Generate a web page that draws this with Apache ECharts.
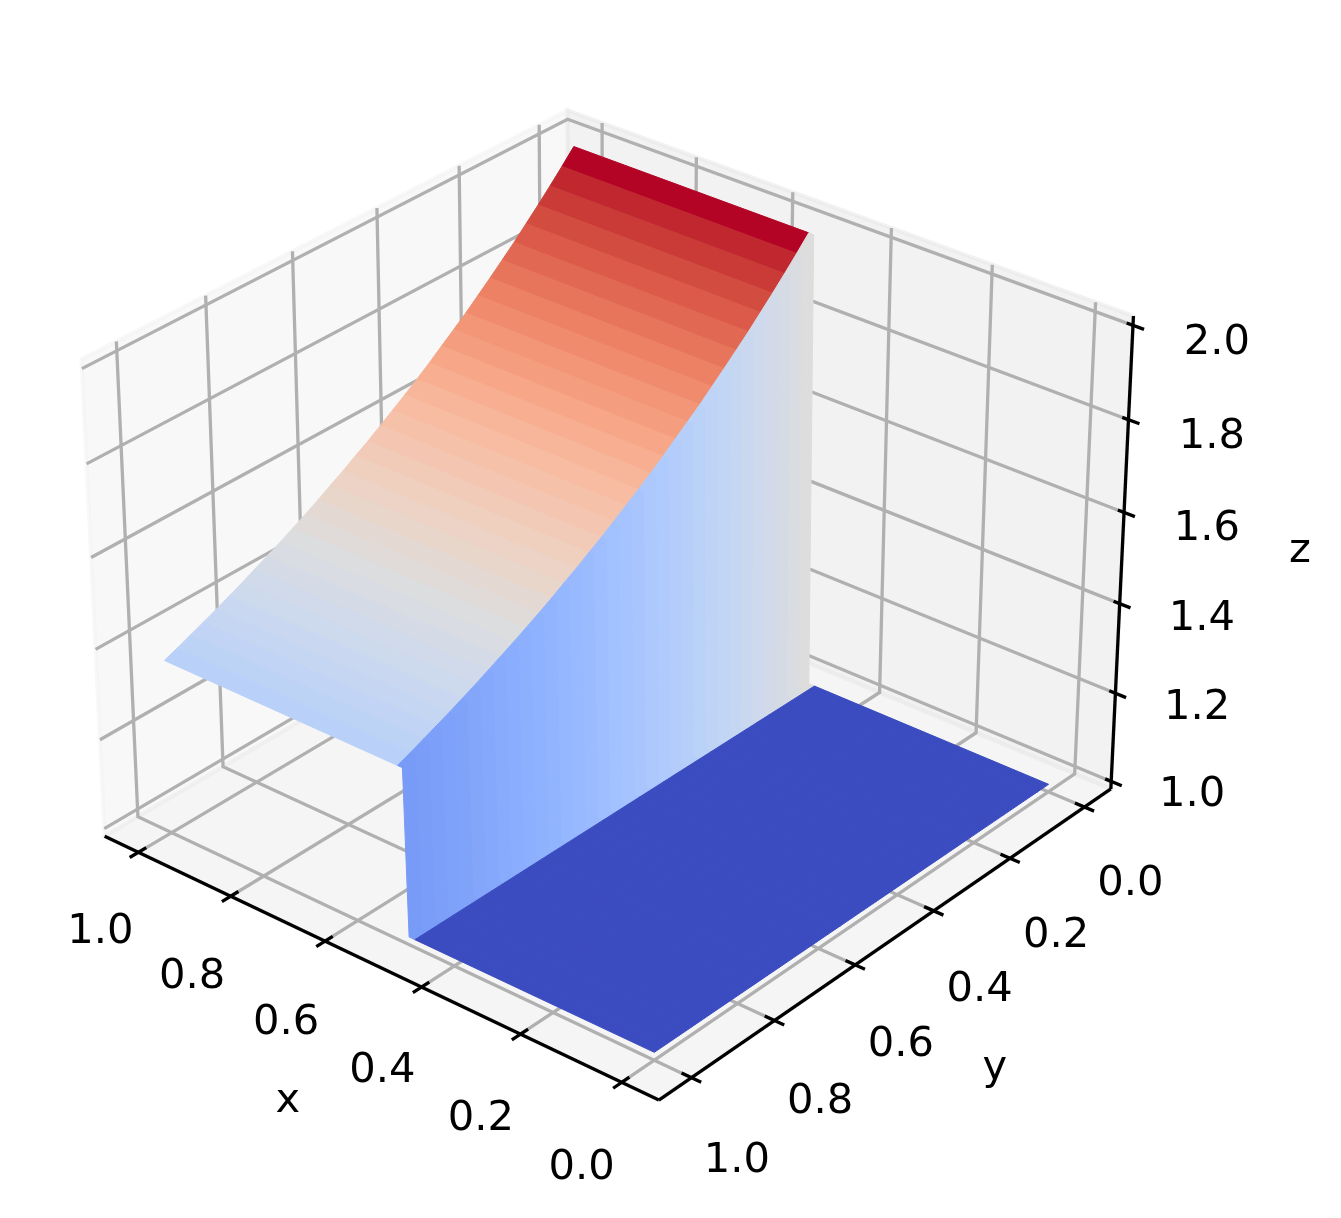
<!DOCTYPE html>
<html>
<head>
<meta charset="utf-8">
<style>
  html, body { margin: 0; background: #fff; }
  #chart { width: 1341px; height: 1218px; }
</style>
<script src="https://cdn.jsdelivr.net/npm/echarts@6/dist/echarts.min.js"></script>
</head>
<body>
<div id="chart"></div>
<script>
  // surface: flat floor, a cliff about one cell wide, then a ridge falling along y
  const xEdges = [0, 0.481, 0.493, 0.5, 0.51, 1]
  const xEdgeOnRidge = [false, false, false, true, true, true]
  const xBandIsWall = [false, true, true, true, false]
  const floorZ = 1
  const yEdges = [0, 0.0303, 0.0606, 0.0909, 0.1212, 0.1515, 0.1818, 0.2121, 0.2424, 0.2727, 0.303, 0.3333,
    0.3636, 0.3939, 0.4242, 0.4545, 0.4848, 0.5152, 0.5455, 0.5758, 0.6061, 0.6364, 0.6667, 0.697, 0.7273,
    0.7576, 0.7879, 0.8182, 0.8485, 0.8788, 0.9091, 0.9394, 0.9697, 1]
  const ridgeZ = [2, 1.97, 1.941, 1.913, 1.886, 1.859, 1.834, 1.809, 1.785, 1.761, 1.739, 1.717,
    1.695, 1.674, 1.654, 1.635, 1.616, 1.597, 1.58, 1.562, 1.546, 1.529, 1.513, 1.498, 1.483,
    1.469, 1.455, 1.441, 1.428, 1.415, 1.403, 1.391, 1.379, 1.368]

  const xTicks = [1, 0.8, 0.6, 0.4, 0.2, 0]
  const yTicks = [0, 0.2, 0.4, 0.6, 0.8, 1]
  const zTicks = [1, 1.2, 1.4, 1.6, 1.8, 2]

  // box limits and view
  const xLim = [-0.0722, 1.0744]
  const yLim = [-0.0722, 1.0767]
  const zLim = [0.9827, 2.0196]
  const azim = 129.94
  const elev = 29.885

  // coolwarm
  const coolwarm = [[59,76,192],[68,90,204],[77,104,215],[87,117,225],[98,130,234],[108,142,241],[119,154,247],
    [130,165,251],[141,176,254],[152,185,255],[163,194,255],[174,201,253],[184,208,249],[194,213,244],
    [204,217,238],[213,219,230],[221,221,221],[229,216,209],[236,211,197],[241,204,185],[245,196,173],
    [247,187,160],[247,177,148],[247,166,135],[244,154,123],[241,141,111],[236,127,99],[229,112,88],
    [222,96,77],[213,80,66],[203,62,56],[192,40,47],[180,4,38]]

  const fontFamily = '"DejaVu Sans"'
  const fontSize = 41.67
  const lineW = 3.3
  const gridColor = '#b0b0b0'

  // pixel frame of the projected view
  const W = 1341, H = 1218, viewScale = 6133.07, viewX = 610.91, viewY = 580.25

  const a = azim * Math.PI / 180, e = elev * Math.PI / 180
  const boxXY = 4 / Math.sqrt(41) * 1.82946 * 25 / 24
  const boxZ = 3 / Math.sqrt(41) * 1.82946 * 25 / 24
  const norm = (v, lim) => (v - lim[0]) / (lim[1] - lim[0])

  function toBox(x, y, z) {
    return [norm(x, xLim) * boxXY - boxXY / 2, norm(y, yLim) * boxXY - boxXY / 2, norm(z, zLim) * boxZ - boxZ / 2]
  }
  function depth(x, y, z) {
    const b = toBox(x, y, z)
    return b[0] * Math.cos(e) * Math.cos(a) + b[1] * Math.cos(e) * Math.sin(a) + b[2] * Math.sin(e) - 10
  }
  // 3d data point to view coordinates, same camera as a mplot3d axes (dist 10)
  function project(x, y, z) {
    const b = toBox(x, y, z)
    const xv = -b[0] * Math.sin(a) + b[1] * Math.cos(a)
    const yv = -b[0] * Math.sin(e) * Math.cos(a) - b[1] * Math.sin(e) * Math.sin(a) + b[2] * Math.cos(e)
    const zv = depth(x, y, z)
    return [xv / -zv, yv / -zv]
  }

  function cmap(t) {
    const p = Math.max(0, Math.min(1, t)) * (coolwarm.length - 1)
    const i = Math.min(Math.floor(p), coolwarm.length - 2), f = p - i
    const c = coolwarm[i].map((v, k) => Math.round(v + (coolwarm[i + 1][k] - v) * f))
    return 'rgb(' + c.join(',') + ')'
  }

  // panes
  const [x0, x1] = xLim, [y0, y1] = yLim, [z0, z1] = zLim
  const panes = [
    { pts: [[x1, y0, z0], [x1, y1, z0], [x1, y1, z1], [x1, y0, z1]], color: 'rgba(242,242,242,0.5)' },
    { pts: [[x0, y0, z0], [x1, y0, z0], [x1, y0, z1], [x0, y0, z1]], color: 'rgba(230,230,230,0.5)' },
    { pts: [[x0, y0, z0], [x1, y0, z0], [x1, y1, z0], [x0, y1, z0]], color: 'rgba(236,236,236,0.5)' }
  ]

  // grid lines
  const gridLines = []
  xTicks.forEach(v => gridLines.push([[v, y1, z0], [v, y0, z0], [v, y0, z1]]))
  yTicks.forEach(v => gridLines.push([[x0, v, z0], [x1, v, z0], [x1, v, z1]]))
  zTicks.forEach(v => gridLines.push([[x1, y1, v], [x1, y0, v], [x0, y0, v]]))

  // axis lines and tick marks
  const axisLines = [
    [[x1, y1, z0], [x0, y1, z0]],
    [[x0, y1, z0], [x0, y0, z0]],
    [[x0, y0, z0], [x0, y0, z1]]
  ]
  xTicks.forEach(v => axisLines.push([[v, y1 - 0.018, z0], [v, y1 + 0.02, z0]]))
  yTicks.forEach(v => axisLines.push([[x0 + 0.019, v, z0], [x0 - 0.019, v, z0]]))
  zTicks.forEach(v => axisLines.push([[x0 + 0.012, y0, v], [x0 - 0.021, y0, v]]))

  // labels, anchored on the projected tick then pushed out in pixels (offset widens towards the viewer)
  const lerp = (p, q, t) => p + (q - p) * t
  const labels = []
  xTicks.forEach(v => labels.push({ at: [v, y1, z0], dx: lerp(-40, -38, v), dy: lerp(86, 80, v), text: v.toFixed(1) }))
  yTicks.forEach(v => labels.push({ at: [x0, v, z0], dx: lerp(46, 45.5, v), dy: lerp(77, 83, v), text: v.toFixed(1) }))
  zTicks.forEach(v => labels.push({ at: [x0, y0, v], dx: lerp(81, 84, v - 1), dy: lerp(14, 18, v - 1), text: v.toFixed(1) }))
  labels.push({ at: [0.5, y1, z0], dx: -85, dy: 137, text: 'x' })
  labels.push({ at: [x0, 0.5, z0], dx: 100, dy: 130, text: 'y' })
  labels.push({ at: [x0, y0, 1.5], dx: 178, dy: -7, text: 'z' })

  // surface cells, far ones first
  const zAt = (i, j) => xEdgeOnRidge[i] ? ridgeZ[j] : floorZ
  const cells = []
  for (let i = 0; i < xEdges.length - 1; i++) {
    for (let j = 0; j < yEdges.length - 1; j++) {
      const pts = [[i, j], [i + 1, j], [i + 1, j + 1], [i, j + 1]].map(p => [xEdges[p[0]], yEdges[p[1]], zAt(p[0], p[1])])
      const ridgeAvg = (ridgeZ[j] + ridgeZ[j + 1]) / 2
      const avg = xBandIsWall[i] ? (floorZ + ridgeAvg) / 2 : pts.reduce((s, p) => s + p[2], 0) / 4
      const d = pts.reduce((s, p) => s + depth(p[0], p[1], p[2]), 0) / 4
      cells.push({ pts, avg, d })
    }
  }
  const avgMin = Math.min(...cells.map(c => c.avg)), avgMax = Math.max(...cells.map(c => c.avg))
  cells.sort((p, q) => p.d - q.d)

  function toPixels(api, pts) {
    return pts.map(p => api.coord(project(p[0], p[1], p[2])))
  }

  function customSeries(items, draw) {
    return {
      type: 'custom',
      coordinateSystem: 'cartesian2d',
      silent: true,
      animation: false,
      clip: false,
      data: items.map((_, i) => [i]),
      encode: { x: -1, y: -1 },
      renderItem(params, api) { return draw(items[params.dataIndex], api) }
    }
  }

  const myChart = echarts.init(document.getElementById('chart'))
  myChart.setOption({
    backgroundColor: '#fff',
    animation: false,
    grid: { left: 0, right: 0, top: 0, bottom: 0 },
    xAxis: { type: 'value', show: false, scale: true, min: -viewX / viewScale, max: (W - viewX) / viewScale },
    yAxis: { type: 'value', show: false, scale: true, min: (viewY - H) / viewScale, max: viewY / viewScale },
    series: [
      customSeries(panes, (p, api) => ({
        type: 'polygon',
        shape: { points: toPixels(api, p.pts) },
        style: { fill: p.color, stroke: p.color, lineWidth: 4 }
      })),
      customSeries(gridLines, (l, api) => ({
        type: 'polyline',
        shape: { points: toPixels(api, l) },
        style: { fill: null, stroke: gridColor, lineWidth: lineW, lineJoin: 'miter' }
      })),
      customSeries(cells, (c, api) => {
        const color = cmap((c.avg - avgMin) / (avgMax - avgMin))
        return {
          type: 'polygon',
          shape: { points: toPixels(api, c.pts) },
          style: { fill: color, stroke: color, lineWidth: 1 }
        }
      }),
      customSeries(axisLines, (l, api) => ({
        type: 'polyline',
        shape: { points: toPixels(api, l) },
        style: { fill: null, stroke: '#000', lineWidth: lineW }
      })),
      customSeries(labels, (t, api) => {
        const c = api.coord(project(t.at[0], t.at[1], t.at[2]))
        return {
          type: 'text',
          style: {
            x: c[0] + t.dx, y: c[1] + t.dy, text: t.text, fill: '#000',
            font: fontSize + 'px ' + fontFamily, align: 'center', verticalAlign: 'middle'
          }
        }
      })
    ]
  })
</script>
</body>
</html>
